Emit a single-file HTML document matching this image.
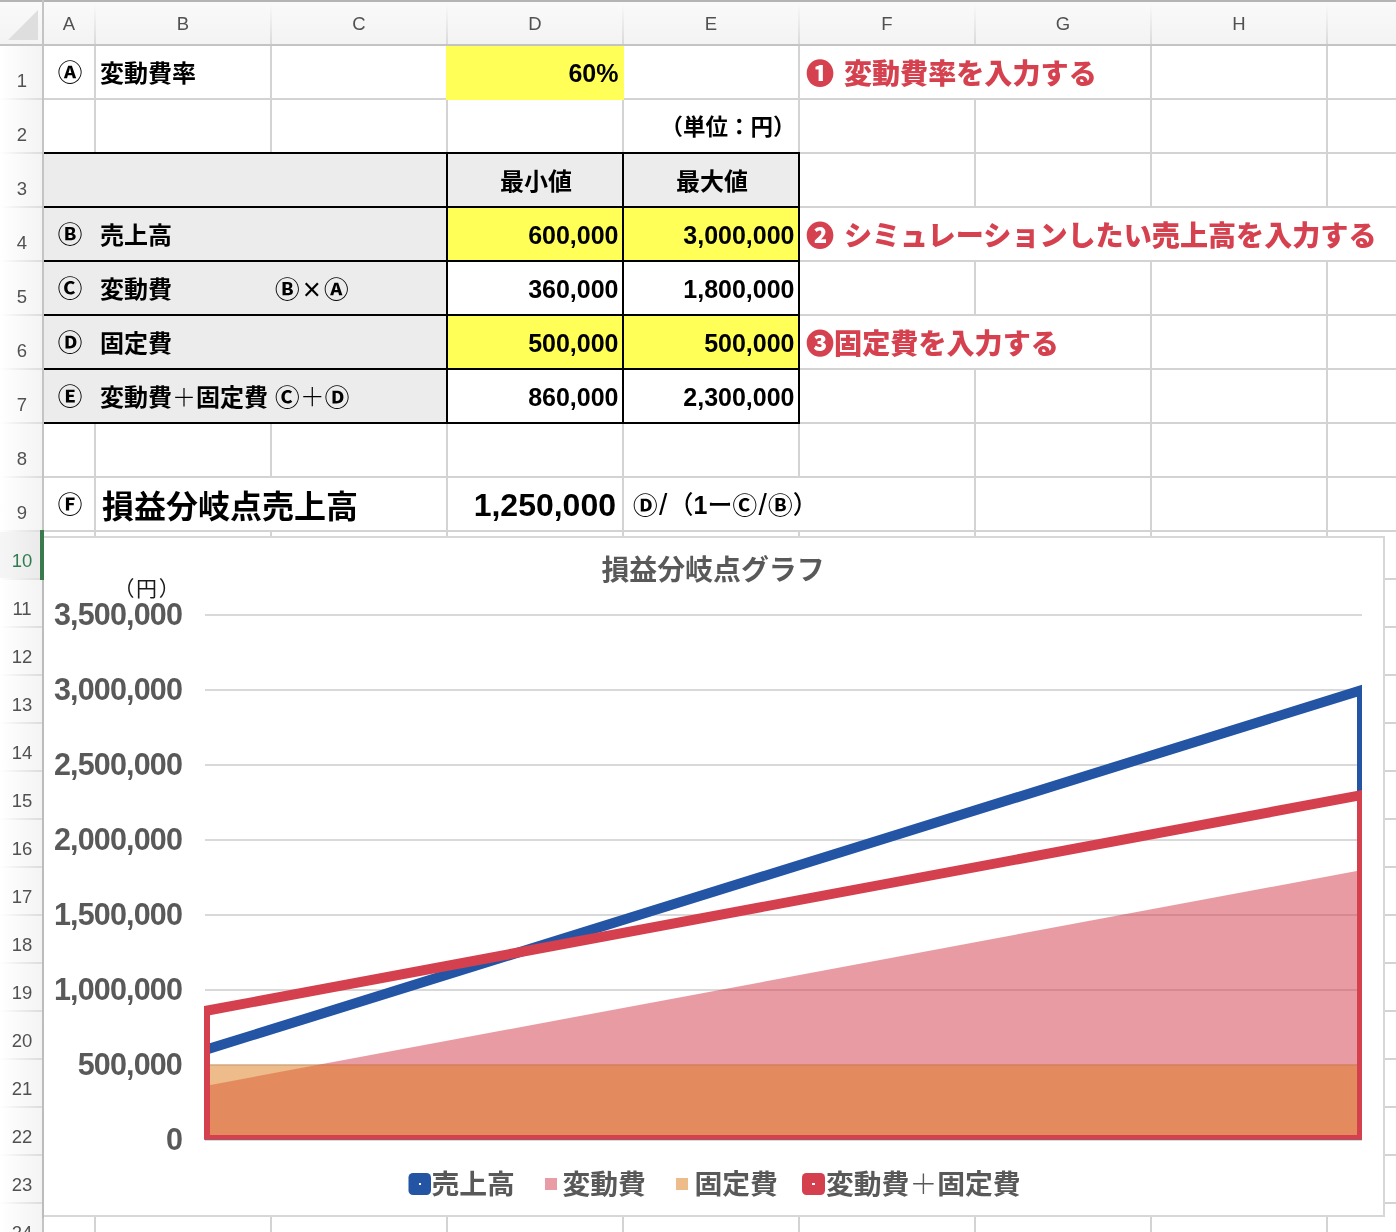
<!DOCTYPE html>
<html lang="ja"><head><meta charset="utf-8"><title>損益分岐点グラフ</title>
<style>
html,body{margin:0;padding:0;background:#fff;}
body{width:1396px;height:1232px;position:relative;overflow:hidden;font-family:"Liberation Sans","Noto Sans CJK JP",sans-serif;color:#000;}
#bg{position:absolute;left:0;top:0;}
.t{position:absolute;white-space:nowrap;font-weight:700;font-size:24px;line-height:52px;height:52px;}
.c{font-weight:700;font-size:24.6px;}
.m{font-weight:500;font-size:25px;font-family:"Liberation Sans","Noto Sans CJK JP Medium","Noto Sans CJK JP",sans-serif;}
.n{font-size:25px;text-align:right;}
.red{color:#d6414f;font-weight:900;font-size:28.1px;word-spacing:2px;font-family:"Liberation Sans","Noto Sans CJK JP Black","Noto Sans CJK JP",sans-serif;}
.ch{position:absolute;top:2px;height:42px;line-height:43px;font-size:18.5px;color:#515151;text-align:center;font-weight:400;}
.rh{position:absolute;left:1px;width:42px;text-align:center;font-size:18.5px;color:#515151;font-weight:400;height:20px;line-height:20px;}
.ax{position:absolute;left:39px;width:143px;text-align:right;font-size:30.5px;letter-spacing:-0.85px;font-weight:700;color:#595959;height:36px;line-height:36px;}
.lg{position:absolute;top:1167px;height:36px;line-height:36px;font-size:27.8px;font-weight:700;color:#595959;white-space:nowrap;}
.m b,.c b{font-weight:700;font-size:24.6px;font-family:"Liberation Sans","Noto Sans CJK JP",sans-serif;display:inline-block;transform:scaleY(0.95);}
.m i{font-style:normal;font-weight:700;}
.thin{font-weight:300;font-family:"Liberation Sans","Noto Sans CJK JP Light","Noto Sans CJK JP",sans-serif;}
</style></head>
<body>
<svg id="bg" width="1396" height="1232" viewBox="0 0 1396 1232" shape-rendering="crispEdges">
<rect x="94" y="44" width="2" height="56" fill="#d3d3d3" />
<rect x="270" y="44" width="2" height="56" fill="#d3d3d3" />
<rect x="446" y="44" width="2" height="56" fill="#d3d3d3" />
<rect x="622" y="44" width="2" height="56" fill="#d3d3d3" />
<rect x="798" y="44" width="2" height="56" fill="#d3d3d3" />
<rect x="1150" y="44" width="2" height="56" fill="#d3d3d3" />
<rect x="1326" y="44" width="2" height="56" fill="#d3d3d3" />
<rect x="1502" y="44" width="2" height="56" fill="#d3d3d3" />
<rect x="94" y="98" width="2" height="56" fill="#d3d3d3" />
<rect x="270" y="98" width="2" height="56" fill="#d3d3d3" />
<rect x="446" y="98" width="2" height="56" fill="#d3d3d3" />
<rect x="622" y="98" width="2" height="56" fill="#d3d3d3" />
<rect x="798" y="98" width="2" height="56" fill="#d3d3d3" />
<rect x="974" y="98" width="2" height="56" fill="#d3d3d3" />
<rect x="1150" y="98" width="2" height="56" fill="#d3d3d3" />
<rect x="1326" y="98" width="2" height="56" fill="#d3d3d3" />
<rect x="1502" y="98" width="2" height="56" fill="#d3d3d3" />
<rect x="94" y="152" width="2" height="56" fill="#d3d3d3" />
<rect x="270" y="152" width="2" height="56" fill="#d3d3d3" />
<rect x="446" y="152" width="2" height="56" fill="#d3d3d3" />
<rect x="622" y="152" width="2" height="56" fill="#d3d3d3" />
<rect x="798" y="152" width="2" height="56" fill="#d3d3d3" />
<rect x="974" y="152" width="2" height="56" fill="#d3d3d3" />
<rect x="1150" y="152" width="2" height="56" fill="#d3d3d3" />
<rect x="1326" y="152" width="2" height="56" fill="#d3d3d3" />
<rect x="1502" y="152" width="2" height="56" fill="#d3d3d3" />
<rect x="94" y="206" width="2" height="56" fill="#d3d3d3" />
<rect x="270" y="206" width="2" height="56" fill="#d3d3d3" />
<rect x="446" y="206" width="2" height="56" fill="#d3d3d3" />
<rect x="622" y="206" width="2" height="56" fill="#d3d3d3" />
<rect x="798" y="206" width="2" height="56" fill="#d3d3d3" />
<rect x="1502" y="206" width="2" height="56" fill="#d3d3d3" />
<rect x="94" y="260" width="2" height="56" fill="#d3d3d3" />
<rect x="270" y="260" width="2" height="56" fill="#d3d3d3" />
<rect x="446" y="260" width="2" height="56" fill="#d3d3d3" />
<rect x="622" y="260" width="2" height="56" fill="#d3d3d3" />
<rect x="798" y="260" width="2" height="56" fill="#d3d3d3" />
<rect x="974" y="260" width="2" height="56" fill="#d3d3d3" />
<rect x="1150" y="260" width="2" height="56" fill="#d3d3d3" />
<rect x="1326" y="260" width="2" height="56" fill="#d3d3d3" />
<rect x="1502" y="260" width="2" height="56" fill="#d3d3d3" />
<rect x="94" y="314" width="2" height="56" fill="#d3d3d3" />
<rect x="270" y="314" width="2" height="56" fill="#d3d3d3" />
<rect x="446" y="314" width="2" height="56" fill="#d3d3d3" />
<rect x="622" y="314" width="2" height="56" fill="#d3d3d3" />
<rect x="798" y="314" width="2" height="56" fill="#d3d3d3" />
<rect x="1150" y="314" width="2" height="56" fill="#d3d3d3" />
<rect x="1326" y="314" width="2" height="56" fill="#d3d3d3" />
<rect x="1502" y="314" width="2" height="56" fill="#d3d3d3" />
<rect x="94" y="368" width="2" height="56" fill="#d3d3d3" />
<rect x="270" y="368" width="2" height="56" fill="#d3d3d3" />
<rect x="446" y="368" width="2" height="56" fill="#d3d3d3" />
<rect x="622" y="368" width="2" height="56" fill="#d3d3d3" />
<rect x="798" y="368" width="2" height="56" fill="#d3d3d3" />
<rect x="974" y="368" width="2" height="56" fill="#d3d3d3" />
<rect x="1150" y="368" width="2" height="56" fill="#d3d3d3" />
<rect x="1326" y="368" width="2" height="56" fill="#d3d3d3" />
<rect x="1502" y="368" width="2" height="56" fill="#d3d3d3" />
<rect x="94" y="422" width="2" height="56" fill="#d3d3d3" />
<rect x="270" y="422" width="2" height="56" fill="#d3d3d3" />
<rect x="446" y="422" width="2" height="56" fill="#d3d3d3" />
<rect x="622" y="422" width="2" height="56" fill="#d3d3d3" />
<rect x="798" y="422" width="2" height="56" fill="#d3d3d3" />
<rect x="974" y="422" width="2" height="56" fill="#d3d3d3" />
<rect x="1150" y="422" width="2" height="56" fill="#d3d3d3" />
<rect x="1326" y="422" width="2" height="56" fill="#d3d3d3" />
<rect x="1502" y="422" width="2" height="56" fill="#d3d3d3" />
<rect x="94" y="476" width="2" height="56" fill="#d3d3d3" />
<rect x="446" y="476" width="2" height="56" fill="#d3d3d3" />
<rect x="622" y="476" width="2" height="56" fill="#d3d3d3" />
<rect x="974" y="476" width="2" height="56" fill="#d3d3d3" />
<rect x="1150" y="476" width="2" height="56" fill="#d3d3d3" />
<rect x="1326" y="476" width="2" height="56" fill="#d3d3d3" />
<rect x="1502" y="476" width="2" height="56" fill="#d3d3d3" />
<rect x="94" y="530" width="2" height="50" fill="#d3d3d3" />
<rect x="270" y="530" width="2" height="50" fill="#d3d3d3" />
<rect x="446" y="530" width="2" height="50" fill="#d3d3d3" />
<rect x="622" y="530" width="2" height="50" fill="#d3d3d3" />
<rect x="798" y="530" width="2" height="50" fill="#d3d3d3" />
<rect x="974" y="530" width="2" height="50" fill="#d3d3d3" />
<rect x="1150" y="530" width="2" height="50" fill="#d3d3d3" />
<rect x="1326" y="530" width="2" height="50" fill="#d3d3d3" />
<rect x="1502" y="530" width="2" height="50" fill="#d3d3d3" />
<rect x="94" y="578" width="2" height="50" fill="#d3d3d3" />
<rect x="270" y="578" width="2" height="50" fill="#d3d3d3" />
<rect x="446" y="578" width="2" height="50" fill="#d3d3d3" />
<rect x="622" y="578" width="2" height="50" fill="#d3d3d3" />
<rect x="798" y="578" width="2" height="50" fill="#d3d3d3" />
<rect x="974" y="578" width="2" height="50" fill="#d3d3d3" />
<rect x="1150" y="578" width="2" height="50" fill="#d3d3d3" />
<rect x="1326" y="578" width="2" height="50" fill="#d3d3d3" />
<rect x="1502" y="578" width="2" height="50" fill="#d3d3d3" />
<rect x="94" y="626" width="2" height="50" fill="#d3d3d3" />
<rect x="270" y="626" width="2" height="50" fill="#d3d3d3" />
<rect x="446" y="626" width="2" height="50" fill="#d3d3d3" />
<rect x="622" y="626" width="2" height="50" fill="#d3d3d3" />
<rect x="798" y="626" width="2" height="50" fill="#d3d3d3" />
<rect x="974" y="626" width="2" height="50" fill="#d3d3d3" />
<rect x="1150" y="626" width="2" height="50" fill="#d3d3d3" />
<rect x="1326" y="626" width="2" height="50" fill="#d3d3d3" />
<rect x="1502" y="626" width="2" height="50" fill="#d3d3d3" />
<rect x="94" y="674" width="2" height="50" fill="#d3d3d3" />
<rect x="270" y="674" width="2" height="50" fill="#d3d3d3" />
<rect x="446" y="674" width="2" height="50" fill="#d3d3d3" />
<rect x="622" y="674" width="2" height="50" fill="#d3d3d3" />
<rect x="798" y="674" width="2" height="50" fill="#d3d3d3" />
<rect x="974" y="674" width="2" height="50" fill="#d3d3d3" />
<rect x="1150" y="674" width="2" height="50" fill="#d3d3d3" />
<rect x="1326" y="674" width="2" height="50" fill="#d3d3d3" />
<rect x="1502" y="674" width="2" height="50" fill="#d3d3d3" />
<rect x="94" y="722" width="2" height="50" fill="#d3d3d3" />
<rect x="270" y="722" width="2" height="50" fill="#d3d3d3" />
<rect x="446" y="722" width="2" height="50" fill="#d3d3d3" />
<rect x="622" y="722" width="2" height="50" fill="#d3d3d3" />
<rect x="798" y="722" width="2" height="50" fill="#d3d3d3" />
<rect x="974" y="722" width="2" height="50" fill="#d3d3d3" />
<rect x="1150" y="722" width="2" height="50" fill="#d3d3d3" />
<rect x="1326" y="722" width="2" height="50" fill="#d3d3d3" />
<rect x="1502" y="722" width="2" height="50" fill="#d3d3d3" />
<rect x="94" y="770" width="2" height="50" fill="#d3d3d3" />
<rect x="270" y="770" width="2" height="50" fill="#d3d3d3" />
<rect x="446" y="770" width="2" height="50" fill="#d3d3d3" />
<rect x="622" y="770" width="2" height="50" fill="#d3d3d3" />
<rect x="798" y="770" width="2" height="50" fill="#d3d3d3" />
<rect x="974" y="770" width="2" height="50" fill="#d3d3d3" />
<rect x="1150" y="770" width="2" height="50" fill="#d3d3d3" />
<rect x="1326" y="770" width="2" height="50" fill="#d3d3d3" />
<rect x="1502" y="770" width="2" height="50" fill="#d3d3d3" />
<rect x="94" y="818" width="2" height="50" fill="#d3d3d3" />
<rect x="270" y="818" width="2" height="50" fill="#d3d3d3" />
<rect x="446" y="818" width="2" height="50" fill="#d3d3d3" />
<rect x="622" y="818" width="2" height="50" fill="#d3d3d3" />
<rect x="798" y="818" width="2" height="50" fill="#d3d3d3" />
<rect x="974" y="818" width="2" height="50" fill="#d3d3d3" />
<rect x="1150" y="818" width="2" height="50" fill="#d3d3d3" />
<rect x="1326" y="818" width="2" height="50" fill="#d3d3d3" />
<rect x="1502" y="818" width="2" height="50" fill="#d3d3d3" />
<rect x="94" y="866" width="2" height="50" fill="#d3d3d3" />
<rect x="270" y="866" width="2" height="50" fill="#d3d3d3" />
<rect x="446" y="866" width="2" height="50" fill="#d3d3d3" />
<rect x="622" y="866" width="2" height="50" fill="#d3d3d3" />
<rect x="798" y="866" width="2" height="50" fill="#d3d3d3" />
<rect x="974" y="866" width="2" height="50" fill="#d3d3d3" />
<rect x="1150" y="866" width="2" height="50" fill="#d3d3d3" />
<rect x="1326" y="866" width="2" height="50" fill="#d3d3d3" />
<rect x="1502" y="866" width="2" height="50" fill="#d3d3d3" />
<rect x="94" y="914" width="2" height="50" fill="#d3d3d3" />
<rect x="270" y="914" width="2" height="50" fill="#d3d3d3" />
<rect x="446" y="914" width="2" height="50" fill="#d3d3d3" />
<rect x="622" y="914" width="2" height="50" fill="#d3d3d3" />
<rect x="798" y="914" width="2" height="50" fill="#d3d3d3" />
<rect x="974" y="914" width="2" height="50" fill="#d3d3d3" />
<rect x="1150" y="914" width="2" height="50" fill="#d3d3d3" />
<rect x="1326" y="914" width="2" height="50" fill="#d3d3d3" />
<rect x="1502" y="914" width="2" height="50" fill="#d3d3d3" />
<rect x="94" y="962" width="2" height="50" fill="#d3d3d3" />
<rect x="270" y="962" width="2" height="50" fill="#d3d3d3" />
<rect x="446" y="962" width="2" height="50" fill="#d3d3d3" />
<rect x="622" y="962" width="2" height="50" fill="#d3d3d3" />
<rect x="798" y="962" width="2" height="50" fill="#d3d3d3" />
<rect x="974" y="962" width="2" height="50" fill="#d3d3d3" />
<rect x="1150" y="962" width="2" height="50" fill="#d3d3d3" />
<rect x="1326" y="962" width="2" height="50" fill="#d3d3d3" />
<rect x="1502" y="962" width="2" height="50" fill="#d3d3d3" />
<rect x="94" y="1010" width="2" height="50" fill="#d3d3d3" />
<rect x="270" y="1010" width="2" height="50" fill="#d3d3d3" />
<rect x="446" y="1010" width="2" height="50" fill="#d3d3d3" />
<rect x="622" y="1010" width="2" height="50" fill="#d3d3d3" />
<rect x="798" y="1010" width="2" height="50" fill="#d3d3d3" />
<rect x="974" y="1010" width="2" height="50" fill="#d3d3d3" />
<rect x="1150" y="1010" width="2" height="50" fill="#d3d3d3" />
<rect x="1326" y="1010" width="2" height="50" fill="#d3d3d3" />
<rect x="1502" y="1010" width="2" height="50" fill="#d3d3d3" />
<rect x="94" y="1058" width="2" height="50" fill="#d3d3d3" />
<rect x="270" y="1058" width="2" height="50" fill="#d3d3d3" />
<rect x="446" y="1058" width="2" height="50" fill="#d3d3d3" />
<rect x="622" y="1058" width="2" height="50" fill="#d3d3d3" />
<rect x="798" y="1058" width="2" height="50" fill="#d3d3d3" />
<rect x="974" y="1058" width="2" height="50" fill="#d3d3d3" />
<rect x="1150" y="1058" width="2" height="50" fill="#d3d3d3" />
<rect x="1326" y="1058" width="2" height="50" fill="#d3d3d3" />
<rect x="1502" y="1058" width="2" height="50" fill="#d3d3d3" />
<rect x="94" y="1106" width="2" height="50" fill="#d3d3d3" />
<rect x="270" y="1106" width="2" height="50" fill="#d3d3d3" />
<rect x="446" y="1106" width="2" height="50" fill="#d3d3d3" />
<rect x="622" y="1106" width="2" height="50" fill="#d3d3d3" />
<rect x="798" y="1106" width="2" height="50" fill="#d3d3d3" />
<rect x="974" y="1106" width="2" height="50" fill="#d3d3d3" />
<rect x="1150" y="1106" width="2" height="50" fill="#d3d3d3" />
<rect x="1326" y="1106" width="2" height="50" fill="#d3d3d3" />
<rect x="1502" y="1106" width="2" height="50" fill="#d3d3d3" />
<rect x="94" y="1154" width="2" height="50" fill="#d3d3d3" />
<rect x="270" y="1154" width="2" height="50" fill="#d3d3d3" />
<rect x="446" y="1154" width="2" height="50" fill="#d3d3d3" />
<rect x="622" y="1154" width="2" height="50" fill="#d3d3d3" />
<rect x="798" y="1154" width="2" height="50" fill="#d3d3d3" />
<rect x="974" y="1154" width="2" height="50" fill="#d3d3d3" />
<rect x="1150" y="1154" width="2" height="50" fill="#d3d3d3" />
<rect x="1326" y="1154" width="2" height="50" fill="#d3d3d3" />
<rect x="1502" y="1154" width="2" height="50" fill="#d3d3d3" />
<rect x="94" y="1202" width="2" height="50" fill="#d3d3d3" />
<rect x="270" y="1202" width="2" height="50" fill="#d3d3d3" />
<rect x="446" y="1202" width="2" height="50" fill="#d3d3d3" />
<rect x="622" y="1202" width="2" height="50" fill="#d3d3d3" />
<rect x="798" y="1202" width="2" height="50" fill="#d3d3d3" />
<rect x="974" y="1202" width="2" height="50" fill="#d3d3d3" />
<rect x="1150" y="1202" width="2" height="50" fill="#d3d3d3" />
<rect x="1326" y="1202" width="2" height="50" fill="#d3d3d3" />
<rect x="1502" y="1202" width="2" height="50" fill="#d3d3d3" />
<rect x="94" y="1250" width="2" height="50" fill="#d3d3d3" />
<rect x="270" y="1250" width="2" height="50" fill="#d3d3d3" />
<rect x="446" y="1250" width="2" height="50" fill="#d3d3d3" />
<rect x="622" y="1250" width="2" height="50" fill="#d3d3d3" />
<rect x="798" y="1250" width="2" height="50" fill="#d3d3d3" />
<rect x="974" y="1250" width="2" height="50" fill="#d3d3d3" />
<rect x="1150" y="1250" width="2" height="50" fill="#d3d3d3" />
<rect x="1326" y="1250" width="2" height="50" fill="#d3d3d3" />
<rect x="1502" y="1250" width="2" height="50" fill="#d3d3d3" />
<rect x="94" y="1298" width="2" height="50" fill="#d3d3d3" />
<rect x="270" y="1298" width="2" height="50" fill="#d3d3d3" />
<rect x="446" y="1298" width="2" height="50" fill="#d3d3d3" />
<rect x="622" y="1298" width="2" height="50" fill="#d3d3d3" />
<rect x="798" y="1298" width="2" height="50" fill="#d3d3d3" />
<rect x="974" y="1298" width="2" height="50" fill="#d3d3d3" />
<rect x="1150" y="1298" width="2" height="50" fill="#d3d3d3" />
<rect x="1326" y="1298" width="2" height="50" fill="#d3d3d3" />
<rect x="1502" y="1298" width="2" height="50" fill="#d3d3d3" />
<rect x="44" y="98" width="1352" height="2" fill="#d3d3d3" />
<rect x="44" y="152" width="1352" height="2" fill="#d3d3d3" />
<rect x="44" y="206" width="1352" height="2" fill="#d3d3d3" />
<rect x="44" y="260" width="1352" height="2" fill="#d3d3d3" />
<rect x="44" y="314" width="1352" height="2" fill="#d3d3d3" />
<rect x="44" y="368" width="1352" height="2" fill="#d3d3d3" />
<rect x="44" y="422" width="1352" height="2" fill="#d3d3d3" />
<rect x="44" y="476" width="1352" height="2" fill="#d3d3d3" />
<rect x="44" y="530" width="1352" height="2" fill="#d3d3d3" />
<rect x="44" y="578" width="1352" height="2" fill="#d3d3d3" />
<rect x="44" y="626" width="1352" height="2" fill="#d3d3d3" />
<rect x="44" y="674" width="1352" height="2" fill="#d3d3d3" />
<rect x="44" y="722" width="1352" height="2" fill="#d3d3d3" />
<rect x="44" y="770" width="1352" height="2" fill="#d3d3d3" />
<rect x="44" y="818" width="1352" height="2" fill="#d3d3d3" />
<rect x="44" y="866" width="1352" height="2" fill="#d3d3d3" />
<rect x="44" y="914" width="1352" height="2" fill="#d3d3d3" />
<rect x="44" y="962" width="1352" height="2" fill="#d3d3d3" />
<rect x="44" y="1010" width="1352" height="2" fill="#d3d3d3" />
<rect x="44" y="1058" width="1352" height="2" fill="#d3d3d3" />
<rect x="44" y="1106" width="1352" height="2" fill="#d3d3d3" />
<rect x="44" y="1154" width="1352" height="2" fill="#d3d3d3" />
<rect x="44" y="1202" width="1352" height="2" fill="#d3d3d3" />
<rect x="44" y="1250" width="1352" height="2" fill="#d3d3d3" />
<rect x="44" y="1298" width="1352" height="2" fill="#d3d3d3" />
<rect x="44" y="1346" width="1352" height="2" fill="#d3d3d3" />
<rect x="446" y="46" width="178" height="54" fill="#ffff57" />
<rect x="44" y="154" width="403" height="269" fill="#ececec" />
<rect x="447" y="154" width="352" height="53" fill="#ececec" />
<rect x="447" y="208" width="352" height="53" fill="#ffff57" />
<rect x="447" y="316" width="352" height="53" fill="#ffff57" />
<rect x="44" y="152" width="756" height="2" fill="#000" />
<rect x="44" y="206" width="756" height="2" fill="#000" />
<rect x="44" y="260" width="756" height="2" fill="#000" />
<rect x="44" y="314" width="756" height="2" fill="#000" />
<rect x="44" y="368" width="756" height="2" fill="#000" />
<rect x="44" y="422" width="756" height="2" fill="#000" />
<rect x="446" y="152" width="2" height="272" fill="#000" />
<rect x="622" y="152" width="2" height="272" fill="#000" />
<rect x="798" y="152" width="2" height="272" fill="#000" />
<defs><linearGradient id="hg" x1="0" y1="0" x2="0" y2="1"><stop offset="0" stop-color="#fafafa"/><stop offset="1" stop-color="#f3f3f3"/></linearGradient><linearGradient id="rg" x1="0" y1="0" x2="1" y2="0"><stop offset="0" stop-color="#ffffff"/><stop offset="1" stop-color="#f3f3f3"/></linearGradient><linearGradient id="rl" x1="0" y1="0" x2="1" y2="0"><stop offset="0" stop-color="#e2e2e2" stop-opacity="0"/><stop offset="1" stop-color="#dcdcdc"/></linearGradient><linearGradient id="cl" x1="0" y1="0" x2="0" y2="1"><stop offset="0" stop-color="#e0e0e0" stop-opacity="0"/><stop offset="1" stop-color="#dadada"/></linearGradient><linearGradient id="sg" x1="0" y1="0" x2="1" y2="0"><stop offset="0" stop-color="#f6f6f6"/><stop offset="1" stop-color="#eaeaea"/></linearGradient><clipPath id="pc"><rect x="204" y="560" width="1158" height="579.6"/></clipPath></defs>
<rect x="0" y="0" width="1396" height="46" fill="url(#hg)" />
<rect x="0" y="46" width="44" height="1186" fill="url(#rg)" />
<rect x="0" y="532" width="42" height="46" fill="url(#sg)" />
<rect x="94" y="4" width="2" height="40" fill="url(#cl)" />
<rect x="270" y="4" width="2" height="40" fill="url(#cl)" />
<rect x="446" y="4" width="2" height="40" fill="url(#cl)" />
<rect x="622" y="4" width="2" height="40" fill="url(#cl)" />
<rect x="798" y="4" width="2" height="40" fill="url(#cl)" />
<rect x="974" y="4" width="2" height="40" fill="url(#cl)" />
<rect x="1150" y="4" width="2" height="40" fill="url(#cl)" />
<rect x="1326" y="4" width="2" height="40" fill="url(#cl)" />
<rect x="1502" y="4" width="2" height="40" fill="url(#cl)" />
<rect x="0" y="98" width="42" height="2" fill="url(#rl)" />
<rect x="0" y="152" width="42" height="2" fill="url(#rl)" />
<rect x="0" y="206" width="42" height="2" fill="url(#rl)" />
<rect x="0" y="260" width="42" height="2" fill="url(#rl)" />
<rect x="0" y="314" width="42" height="2" fill="url(#rl)" />
<rect x="0" y="368" width="42" height="2" fill="url(#rl)" />
<rect x="0" y="422" width="42" height="2" fill="url(#rl)" />
<rect x="0" y="476" width="42" height="2" fill="url(#rl)" />
<rect x="0" y="530" width="42" height="2" fill="url(#rl)" />
<rect x="0" y="578" width="42" height="2" fill="url(#rl)" />
<rect x="0" y="626" width="42" height="2" fill="url(#rl)" />
<rect x="0" y="674" width="42" height="2" fill="url(#rl)" />
<rect x="0" y="722" width="42" height="2" fill="url(#rl)" />
<rect x="0" y="770" width="42" height="2" fill="url(#rl)" />
<rect x="0" y="818" width="42" height="2" fill="url(#rl)" />
<rect x="0" y="866" width="42" height="2" fill="url(#rl)" />
<rect x="0" y="914" width="42" height="2" fill="url(#rl)" />
<rect x="0" y="962" width="42" height="2" fill="url(#rl)" />
<rect x="0" y="1010" width="42" height="2" fill="url(#rl)" />
<rect x="0" y="1058" width="42" height="2" fill="url(#rl)" />
<rect x="0" y="1106" width="42" height="2" fill="url(#rl)" />
<rect x="0" y="1154" width="42" height="2" fill="url(#rl)" />
<rect x="0" y="1202" width="42" height="2" fill="url(#rl)" />
<rect x="0" y="1250" width="42" height="2" fill="url(#rl)" />
<rect x="0" y="1298" width="42" height="2" fill="url(#rl)" />
<rect x="0" y="1346" width="42" height="2" fill="url(#rl)" />
<rect x="0" y="0" width="1396" height="2" fill="#b4b4b4" />
<rect x="0" y="44" width="1396" height="2" fill="#c4c4c4" />
<rect x="42" y="0" width="2" height="1232" fill="#c4c4c4" />
<polygon shape-rendering="geometricPrecision" points="8,40 38,10 38,40" fill="#dedede"/>
<rect x="43" y="537" width="1341" height="679" fill="#fff" stroke="#d7d7d7" stroke-width="2"/>
<rect x="42" y="536" width="2" height="682" fill="#bcbcbc" />
<rect x="205" y="614" width="1157" height="2" fill="#d9d9d9" />
<rect x="205" y="689" width="1157" height="2" fill="#d9d9d9" />
<rect x="205" y="764" width="1157" height="2" fill="#d9d9d9" />
<rect x="205" y="839" width="1157" height="2" fill="#d9d9d9" />
<rect x="205" y="914" width="1157" height="2" fill="#d9d9d9" />
<rect x="205" y="989" width="1157" height="2" fill="#d9d9d9" />
<rect x="205" y="1064" width="1157" height="2" fill="#d9d9d9" />
<rect x="205" y="1139" width="1157" height="2" fill="#d9d9d9" />
<polygon shape-rendering="geometricPrecision" points="205,1086 1362,870 1362,1140 205,1140" fill="rgba(213,64,79,0.52)"/>
<rect x="205" y="1064.5" width="1157" height="75.5" fill="rgba(222,124,30,0.52)" shape-rendering="geometricPrecision"/>
<g shape-rendering="geometricPrecision" clip-path="url(#pc)" fill="none" stroke-width="10" stroke-linejoin="miter" stroke-miterlimit="10"><polygon points="205,1050 1362,690 1362,1140 205,1140" stroke="#2455a5"/><polygon points="205,1011 1362,795 1362,1140 205,1140" stroke="#d5404f"/></g>
<rect shape-rendering="geometricPrecision" x="408.5" y="1173" width="22.5" height="22" rx="4.5" fill="#2455a5"/><rect x="418.5" y="1183" width="2.5" height="2" fill="#fff"/>
<rect x="545" y="1178" width="12" height="12" fill="#e89ca6" />
<rect x="676" y="1178" width="12" height="12" fill="#eebb8a" />
<rect shape-rendering="geometricPrecision" x="802" y="1173" width="23" height="22" rx="4.5" fill="#d5404f"/><rect x="812" y="1183" width="2.5" height="2" fill="#fff"/>
<rect x="40" y="530" width="4" height="50" fill="#3b7a4d" />
</svg>
<div class="ch" style="left:44px;width:50px">A</div>
<div class="ch" style="left:96px;width:174px">B</div>
<div class="ch" style="left:272px;width:174px">C</div>
<div class="ch" style="left:448px;width:174px">D</div>
<div class="ch" style="left:624px;width:174px">E</div>
<div class="ch" style="left:800px;width:174px">F</div>
<div class="ch" style="left:976px;width:174px">G</div>
<div class="ch" style="left:1152px;width:174px">H</div>
<div class="rh" style="top:71px;">1</div>
<div class="rh" style="top:125px;">2</div>
<div class="rh" style="top:179px;">3</div>
<div class="rh" style="top:233px;">4</div>
<div class="rh" style="top:287px;">5</div>
<div class="rh" style="top:341px;">6</div>
<div class="rh" style="top:395px;">7</div>
<div class="rh" style="top:449px;">8</div>
<div class="rh" style="top:503px;">9</div>
<div class="rh" style="top:551px;color:#2f7d4f;">10</div>
<div class="rh" style="top:599px;">11</div>
<div class="rh" style="top:647px;">12</div>
<div class="rh" style="top:695px;">13</div>
<div class="rh" style="top:743px;">14</div>
<div class="rh" style="top:791px;">15</div>
<div class="rh" style="top:839px;">16</div>
<div class="rh" style="top:887px;">17</div>
<div class="rh" style="top:935px;">18</div>
<div class="rh" style="top:983px;">19</div>
<div class="rh" style="top:1031px;">20</div>
<div class="rh" style="top:1079px;">21</div>
<div class="rh" style="top:1127px;">22</div>
<div class="rh" style="top:1175px;">23</div>
<div class="rh" style="top:1223px;">24</div>
<div class="rh" style="top:1271px;">25</div>
<div class="rh" style="top:1319px;">26</div>
<div class="t c" style="left:45px;top:47px;width:50px;text-align:center;"><b>Ⓐ</b></div>
<div class="t c" style="left:45px;top:209px;width:50px;text-align:center;"><b>Ⓑ</b></div>
<div class="t c" style="left:45px;top:263px;width:50px;text-align:center;"><b>Ⓒ</b></div>
<div class="t c" style="left:45px;top:317px;width:50px;text-align:center;"><b>Ⓓ</b></div>
<div class="t c" style="left:45px;top:371px;width:50px;text-align:center;"><b>Ⓔ</b></div>
<div class="t c" style="left:45px;top:479px;width:50px;text-align:center;"><b>Ⓕ</b></div>
<div class="t " style="left:100px;top:48px;">変動費率</div>
<div class="t " style="left:100px;top:210px;">売上高</div>
<div class="t " style="left:100px;top:264px;">変動費</div>
<div class="t " style="left:100px;top:318px;">固定費</div>
<div class="t " style="left:100px;top:372px;">変動費<span class="thin">＋</span>固定費</div>
<div class="t c" style="left:275px;top:264px;"><b>Ⓑ</b><span class="thin" style="padding:0 3.2px;font-size:31px;line-height:0;position:relative;top:1.5px">×</span><b>Ⓐ</b></div>
<div class="t c" style="left:275px;top:372px;"><b>Ⓒ</b><span class="thin" style="margin:0 0.3px">＋</span><b>Ⓓ</b></div>
<div class="t " style="left:448px;top:156px;width:176px;text-align:center;">最小値</div>
<div class="t " style="left:624px;top:156px;width:176px;text-align:center;">最大値</div>
<div class="t " style="left:603.5px;top:102px;width:192px;font-size:22.5px;text-align:right;">（単位：円）</div>
<div class="t n" style="left:448px;top:47px;width:170.5px;">60%</div>
<div class="t n" style="left:448px;top:209px;width:170.5px;">600,000</div>
<div class="t n" style="left:624px;top:209px;width:170.5px;">3,000,000</div>
<div class="t n" style="left:448px;top:263px;width:170.5px;">360,000</div>
<div class="t n" style="left:624px;top:263px;width:170.5px;">1,800,000</div>
<div class="t n" style="left:448px;top:317px;width:170.5px;">500,000</div>
<div class="t n" style="left:624px;top:317px;width:170.5px;">500,000</div>
<div class="t n" style="left:448px;top:371px;width:170.5px;">860,000</div>
<div class="t n" style="left:624px;top:371px;width:170.5px;">2,300,000</div>
<div class="t red" style="left:806px;top:49px;">❶ 変動費率を入力する</div>
<div class="t red" style="left:806px;top:211px;">❷ シミュレーションしたい売上高を入力する</div>
<div class="t red" style="left:806px;top:319px;">❸固定費を入力する</div>
<div class="t " style="left:102px;top:481px;font-size:32px;">損益分岐点売上高</div>
<div class="t " style="left:448px;top:479px;width:168px;font-size:32px;text-align:right;">1,250,000</div>
<div class="t m" style="left:633px;top:479px;"><b>Ⓓ</b><span style="padding:0 1.3px;font-size:30px;line-height:0;position:relative;top:0.5px">/</span>（<i>1</i>ー<b>Ⓒ</b><span style="padding:0 1.3px;font-size:30px;line-height:0;position:relative;top:0.5px">/</span><b>Ⓑ</b>）</div>
<div class="t" style="left:501px;top:552.5px;width:424px;text-align:center;font-size:27.9px;color:#595959;line-height:36px;height:36px;">損益分岐点グラフ</div>
<div class="t" style="left:113.5px;top:571px;font-size:21px;letter-spacing:1.6px;font-weight:400;color:#1a1a1a;line-height:36px;height:36px;">（円）</div>
<div class="ax" style="top:595.5px">3,500,000</div>
<div class="ax" style="top:670.5px">3,000,000</div>
<div class="ax" style="top:745.5px">2,500,000</div>
<div class="ax" style="top:820.5px">2,000,000</div>
<div class="ax" style="top:895.5px">1,500,000</div>
<div class="ax" style="top:970.5px">1,000,000</div>
<div class="ax" style="top:1045.5px">500,000</div>
<div class="ax" style="top:1120.5px">0</div>
<div class="lg" style="left:431.5px">売上高</div>
<div class="lg" style="left:562.5px">変動費</div>
<div class="lg" style="left:694.5px">固定費</div>
<div class="lg" style="left:826px">変動費<span class="thin">＋</span>固定費</div>
</body></html>
